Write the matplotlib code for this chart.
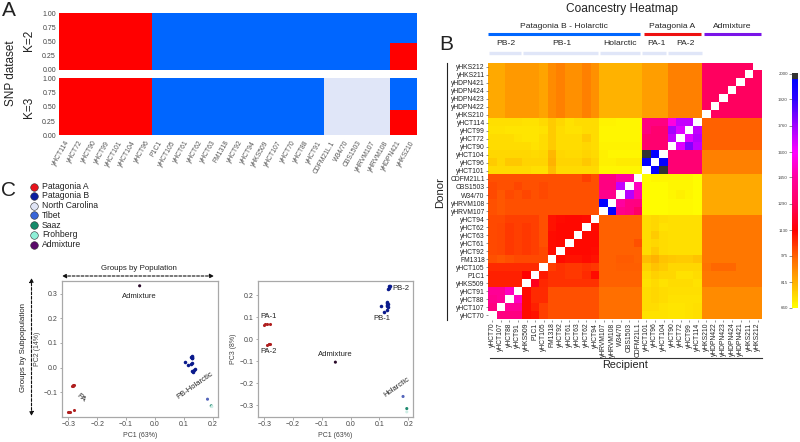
# Structure, coancestry heatmap and PCA panels
import numpy as np
import matplotlib
matplotlib.use("Agg")
import matplotlib.pyplot as plt
from matplotlib.colors import LinearSegmentedColormap, Normalize
from matplotlib.cm import ScalarMappable

plt.rcParams["font.family"] = ["Liberation Sans", "DejaVu Sans"]

W, H = 800, 442
TXT = "#222222"
GREY = "#444444"
RED = "#ff0000"
BLUE = "#0066ff"
PALE = "#e0e6f8"

# ---------------------------------------------------------------
# Data
# ---------------------------------------------------------------
strains = ["yHCT114", "yHCT72", "yHCT90", "yHCT99", "yHCT101", "yHCT104", "yHCT96",
           "P1C1", "yHCT105", "yHCT61", "yHCT62", "yHCT63", "FM1318", "yHCT92", "yHCT94",
           "yHKS509", "yHCT107", "yHCT70", "yHCT88", "yHCT91", "CDFM21L.1", "W34/70",
           "CBS1503", "yHRVM107", "yHRVM108", "yHDPN421", "yHKS210"]

k2_red = [1.0] * 7 + [0.0] * 18 + [0.48, 0.48]
k2_blue = [0.0] * 7 + [1.0] * 18 + [0.52, 0.52]

k3_red = [1.0] * 7 + [0.0] * 18 + [0.44, 0.44]
k3_blue = [0.0] * 7 + [1.0] * 13 + [0.0] * 5 + [0.56, 0.56]
k3_pale = [0.0] * 20 + [1.0] * 5 + [0.0, 0.0]

donors = ["yHKS212", "yHKS211", "yHDPN421", "yHDPN424", "yHDPN423", "yHDPN422", "yHKS210",
          "yHCT114", "yHCT99", "yHCT72", "yHCT90", "yHCT104", "yHCT96", "yHCT101",
          "CDFM21L1", "CBS1503", "W34/70", "yHRVM108", "yHRVM107",
          "yHCT94", "yHCT62", "yHCT63", "yHCT61", "yHCT92", "FM1318", "yHCT105", "P1C1", "yHKS509",
          "yHCT91", "yHCT88", "yHCT107", "yHCT70"]
recipients = donors[::-1]

# 0 is the empty diagonal cell
coancestry = [
    [830,830,860,860,860,860,840,890,915,880,880,915,880,815,815,815,815,815,850,850,850,915,915,915,915,1290,1290,1290,1290,1290,1290,0],
    [830,830,860,860,860,860,840,890,915,880,880,915,880,815,815,815,815,815,850,850,850,915,915,915,915,1290,1290,1290,1290,1290,0,1290],
    [830,830,860,860,860,860,840,890,915,880,880,915,880,815,815,815,815,815,850,850,850,915,915,915,915,1290,1290,1290,1290,0,1290,1290],
    [830,830,860,860,860,860,840,890,915,880,880,915,880,815,815,815,815,815,850,850,850,915,915,915,915,1290,1290,1290,0,1290,1290,1290],
    [830,830,860,860,860,860,840,890,915,880,880,915,880,815,815,815,815,815,850,850,850,915,915,915,915,1290,1290,0,1290,1290,1290,1290],
    [830,830,860,860,860,860,840,890,915,880,880,915,880,815,815,815,815,815,850,850,850,915,915,915,915,1290,0,1290,1290,1290,1290,1290],
    [830,830,860,860,860,860,840,890,915,880,880,915,880,815,815,815,815,815,850,850,850,915,915,915,915,0,1290,1290,1290,1290,1290,1290],
    [725,725,725,725,720,720,735,760,740,720,730,730,730,685,685,680,680,680,1370,1370,1370,1550,1700,1700,0,975,975,975,975,975,975,975],
    [720,720,710,710,710,710,720,760,730,720,720,730,730,680,680,680,680,680,1370,1330,1330,1750,1650,0,1700,975,975,975,975,975,975,975],
    [730,730,730,720,710,710,730,760,730,730,730,760,730,680,680,680,680,680,1330,1330,1330,1700,0,1650,1720,975,975,975,975,975,975,975],
    [730,730,730,730,730,720,730,760,730,730,730,740,730,685,685,685,685,685,1330,1330,1330,0,1650,1800,1700,975,975,975,975,975,975,975],
    [740,740,740,740,740,735,740,800,740,735,735,745,735,690,680,680,680,680,2070,2030,0,1340,1340,1340,1340,915,915,915,915,915,915,915],
    [760,740,770,770,745,745,745,810,745,745,745,770,745,690,690,700,700,700,2030,0,2030,1340,1340,1340,1340,915,915,915,915,915,915,915],
    [735,735,735,735,735,725,725,790,735,735,735,735,735,680,680,680,680,680,0,2030,2070,1340,1340,1340,1340,915,915,915,915,915,915,915],
    [1000,1000,1000,1000,1000,1000,1000,1000,1000,1000,1000,1030,1000,1370,1370,1450,1450,0,670,680,680,680,680,680,670,830,830,830,830,830,830,830],
    [1010,1000,1000,1020,1000,1000,1010,1000,1000,1000,1000,1000,1000,1370,1370,1700,0,1500,670,670,670,680,680,680,670,830,830,830,830,830,830,830],
    [1010,990,1010,1000,1020,1000,1010,1000,1000,1000,1000,1000,1000,1400,1400,0,1720,1480,670,670,670,680,690,680,670,830,830,830,830,830,830,830],
    [1000,990,1000,1000,1000,1000,1000,1000,1000,1000,1000,1000,1000,2030,0,1450,1380,1370,670,670,670,675,675,675,670,830,830,830,830,830,830,830],
    [1000,990,1000,1000,1000,1000,1000,1000,1000,1000,1000,1000,1000,0,2030,1400,1380,1300,670,670,670,675,675,675,670,830,830,830,830,830,830,830],
    [1010,1010,1030,1030,1030,1030,1000,1100,1110,1120,1120,1110,0,975,975,975,975,975,730,740,730,725,725,725,725,930,930,930,930,930,930,930],
    [1010,1020,1040,1030,1040,1030,1000,1100,1120,1120,1120,0,1110,975,975,975,975,975,730,740,720,725,725,725,725,930,930,930,930,930,930,930],
    [1010,1020,1040,1030,1040,1030,1000,1110,1120,1120,0,1120,1120,975,975,975,975,975,730,760,730,725,725,725,725,930,930,930,930,930,930,930],
    [1010,1020,1040,1030,1040,1030,1000,1110,1120,0,1120,1120,1120,975,975,975,975,1000,730,740,730,725,725,725,725,930,930,930,930,930,930,930],
    [1010,1020,1040,1030,1040,1030,1010,1110,0,1120,1120,1120,1110,975,975,975,975,975,730,760,730,725,725,725,725,930,930,930,930,930,930,930],
    [1000,990,1000,1010,1010,1010,1010,0,1110,1100,1100,1110,1100,975,975,985,985,975,790,810,780,770,760,760,780,930,930,930,930,930,930,930],
    [1060,1060,1060,1060,1060,1060,0,1030,1050,1040,1040,1050,1040,975,975,980,980,980,750,780,760,740,740,740,740,940,965,965,965,930,930,930],
    [1080,1080,1080,1080,1135,0,1090,1050,1050,1040,1040,1060,1110,975,975,975,975,975,730,750,740,740,720,720,730,930,930,930,930,930,930,930],
    [1080,1080,1080,1080,0,1180,1070,1050,1050,1050,1050,1050,1050,975,975,975,975,975,720,735,720,730,730,730,720,930,930,930,930,930,930,930],
    [1420,1420,1500,0,1110,1060,1060,1000,1000,1000,1000,1000,1000,945,945,945,945,945,730,740,730,725,725,725,725,890,890,890,890,890,890,890],
    [1400,1420,0,1500,1110,1060,1060,1000,1000,1000,1000,1000,1000,945,945,945,945,945,730,740,730,720,720,720,720,890,890,890,890,890,890,890],
    [1370,0,1420,1420,1110,1080,1030,1000,1000,1000,1000,1000,1000,945,945,945,945,945,730,730,720,710,710,720,725,890,890,890,890,890,890,890],
    [0,1370,1370,1370,1110,1100,1030,1000,1000,1000,1000,1000,1000,945,945,945,945,945,720,720,720,710,710,720,725,890,890,890,890,890,890,890],
]

cbar_levels = [660, 815, 975, 1130, 1290, 1450, 1600, 1760, 1920, 2075]
cbar_labels = ["660", "815", "975", "1130", "1290", "1450", "1600", "1760", "1920", "2000"]

# PC scores per population (PC1, PC2) left panel, (PC1, PC3) right panel
pa_pc1 = [-0.285, -0.283, -0.280, -0.287, -0.302, -0.297, -0.293, -0.282]
pa_pc2 = [-0.073, -0.072, -0.072, -0.074, -0.178, -0.179, -0.180, -0.170]
pb_pc1 = [0.125, 0.130, 0.128, 0.127, 0.105, 0.115, 0.125, 0.130, 0.135, 0.132, 0.137, 0.130, 0.128]
pb_pc2 = [0.043, 0.047, 0.040, 0.038, 0.021, 0.012, 0.016, 0.020, -0.010, -0.018, -0.005, -0.014, 0.045]
other_pc1 = [0.182, 0.195, 0.197, -0.053]
other_pc2 = [-0.128, -0.155, -0.158, 0.332]

pa_x3 = [-0.302, -0.297, -0.292, -0.281, -0.289, -0.285, -0.282, -0.281]
pa_pc3 = [0.063, 0.068, 0.070, 0.069, -0.024, -0.023, -0.022, -0.020]
pb_x3 = [0.132, 0.133, 0.135, 0.131, 0.105, 0.115, 0.125, 0.127, 0.128, 0.125, 0.130, 0.128, 0.130]
pb_pc3 = [0.233, 0.240, 0.242, 0.229, 0.150, 0.125, 0.135, 0.150, 0.155, 0.170, 0.160, 0.165, 0.145]
other_x3 = [0.182, 0.195, 0.195, -0.053]
other_pc3 = [-0.260, -0.315, -0.330, -0.104]
other_cols = ["#5566bb", "#1f8a70", "#cfeee6", "#2a0a2a"]

legend_names = ["Patagonia A", "Patagonia B", "North Carolina", "Tibet", "Saaz", "Frohberg", "Admixture"]
legend_cols = ["#e8141c", "#0a1fa0", "#dfe4f5", "#3a66d8", "#148a6a", "#8ff0d8", "#5a0a6a"]


def px_axes(x0, y0, x1, y1):
    # axes placed by pixel box, y counted from the top
    return fig.add_axes([x0 / W, 1 - y1 / H, (x1 - x0) / W, (y1 - y0) / H])


fig = plt.figure(figsize=(8, 4.42), dpi=100)

# overlay in pixel coordinates for headers, rules and arrows
ov = fig.add_axes([0, 0, 1, 1], zorder=5)
ov.set_xlim(0, W)
ov.set_ylim(H, 0)
ov.axis("off")


def label(x, y, s, size=5.5, color=TXT, rot=0, ha="center"):
    ov.text(x, y, s, fontsize=size, color=color, rotation=rot, ha=ha, va="center")


# ---------------------------------------------------------------
# Panel A: admixture bars
# ---------------------------------------------------------------
pos = np.arange(len(strains))

ax_k2 = px_axes(58.7, 13, 417, 70)
ax_k2.bar(pos, k2_red, width=1.0, color=RED)
ax_k2.bar(pos, k2_blue, width=1.0, bottom=k2_red, color=BLUE)

ax_k3 = px_axes(58.7, 78.3, 417, 135.3)
ax_k3.bar(pos, k3_red, width=1.0, color=RED)
ax_k3.bar(pos, k3_blue, width=1.0, bottom=k3_red, color=BLUE)
ax_k3.bar(pos, k3_pale, width=1.0, bottom=np.add(k3_red, k3_blue), color=PALE)

for ax in (ax_k2, ax_k3):
    ax.set_xlim(-0.5, len(strains) - 0.5)
    ax.set_ylim(0, 1)
    ax.set_yticks([0, 0.25, 0.5, 0.75, 1.0], ["0.00", "0.25", "0.50", "0.75", "1.00"])
    ax.tick_params(axis="y", length=0, labelsize=5, labelcolor=GREY, pad=2)
    for s in ax.spines.values():
        s.set_visible(False)
ax_k2.set_xticks([])
ax_k3.set_xticks(pos, strains, rotation=60, ha="right", rotation_mode="anchor")
ax_k3.tick_params(axis="x", length=0, labelsize=4.9, labelcolor="#555555", pad=3)

label(9, 11, "A", size=15, ha="center")
label(11, 73, "SNP dataset", size=8.5, rot=90)
label(29, 40, "K=2", size=8.5, rot=90)
label(29, 107, "K=3", size=8.5, rot=90)

# ---------------------------------------------------------------
# Panel B: coancestry heatmap
# ---------------------------------------------------------------
cmap = LinearSegmentedColormap.from_list("coancestry", [
    (0.0, "#ffff00"), (0.109, "#ffb000"), (0.222, "#ff6000"), (0.331, "#ff0000"),
    (0.444, "#ff0060"), (0.556, "#ff00a0"), (0.662, "#ff00ff"), (0.775, "#a000ff"),
    (0.887, "#3000ff"), (0.972, "#0000ff"), (0.979, "#333333"), (1.0, "#333333")])
cmap.set_bad("white")
norm = Normalize(660, 2080)

ax_hm = px_axes(488, 62.5, 762, 319.5)
ax_hm.imshow(np.ma.masked_equal(np.array(coancestry, dtype=float), 0), cmap=cmap, norm=norm,
             aspect="auto", interpolation="nearest")
ax_hm.set_xticks(range(len(recipients)), recipients, rotation=90)
ax_hm.set_yticks(range(len(donors)), donors)
ax_hm.tick_params(length=1.5, width=0.4, labelsize=4.9, labelcolor=TXT, color=GREY, pad=0.8)
for s in ax_hm.spines.values():
    s.set_visible(False)

ax_cb = px_axes(792, 73, 798, 308)
cb = fig.colorbar(ScalarMappable(norm=norm, cmap=cmap), cax=ax_cb)
cb.outline.set_visible(False)
cb.set_ticks(cbar_levels, labels=cbar_labels)
ax_cb.yaxis.set_ticks_position("left")
ax_cb.tick_params(length=2, width=0.4, labelsize=3.2, labelcolor=GREY, color=GREY, pad=1)

label(622.5, 9, "Coancestry Heatmap", size=8.6)
label(563.5, 26, "Patagonia B - Holarctic", size=6.1)
label(672.5, 26, "Patagonia A", size=6.1)
label(732, 26, "Admixture", size=6.1)
ov.plot([488, 640], [34, 34], color=BLUE, lw=2.2, solid_capstyle="butt")
ov.plot([643.5, 701], [34, 34], color="#ee1111", lw=2.2, solid_capstyle="butt")
ov.plot([703.5, 761], [34, 34], color="#7a14e8", lw=2.2, solid_capstyle="butt")
for cx, name in [(506, "PB-2"), (562, "PB-1"), (619.5, "Holarctic"), (656.5, "PA-1"), (685.5, "PA-2")]:
    label(cx, 43.5, name, size=6.1)
for x0, x1 in [(488.7, 520.7), (523, 598), (600, 640), (642, 666), (668, 701.5)]:
    ov.plot([x0, x1], [52.5, 52.5], color=PALE, lw=2.4, solid_capstyle="butt")
label(446.5, 45, "B", size=15)
label(440, 193, "Donor", size=8.2, rot=90)
label(625, 365, "Recipient", size=7.8)
ov.plot([446.7, 446.7], [63, 320], color="#222222", lw=0.8)
ov.plot([490, 762], [358, 358], color="#333333", lw=0.8)

# ---------------------------------------------------------------
# Panel C: PCA
# ---------------------------------------------------------------
ax_l = px_axes(62.3, 281, 217.5, 416.7)
ax_l.scatter(pa_pc1, pa_pc2, s=5, color="#b02020", linewidths=0)
ax_l.scatter(pb_pc1, pb_pc2, s=6.5, color="#0a1a8c", linewidths=0)
ax_l.scatter(other_pc1, other_pc2, s=5, c=other_cols, linewidths=0)
ax_l.set_xlim(-0.3208, 0.2166)
ax_l.set_ylim(-0.199, 0.3515)
ax_l.set_yticks([-0.1, 0.0, 0.1, 0.2, 0.3])
ax_l.set_xlabel("PC1 (63%)")
ax_l.set_ylabel("PC2 (14%)")
ax_l.text(-0.054, 0.288, "Admixture", fontsize=5.5, color=TXT, ha="center", va="center")
ax_l.text(-0.256, -0.122, "PA", fontsize=5.5, color=TXT, ha="center", va="center", rotation=-40)
ax_l.text(0.138, -0.073, "PB-Holarctic", fontsize=5.5, color=TXT, ha="center", va="center", rotation=35)

ax_r = px_axes(258.3, 281, 413, 416.7)
ax_r.scatter(pa_x3, pa_pc3, s=5, color="#b02020", linewidths=0)
ax_r.scatter(pb_x3, pb_pc3, s=6.5, color="#0a1a8c", linewidths=0)
ax_r.scatter(other_x3, other_pc3, s=5, c=other_cols, linewidths=0)
ax_r.set_xlim(-0.3208, 0.2166)
ax_r.set_ylim(-0.352, 0.265)
ax_r.set_yticks([-0.3, -0.2, -0.1, 0.0, 0.1, 0.2])
ax_r.set_xlabel("PC1 (63%)")
ax_r.set_ylabel("PC3 (8%)")
for x, y, s, r in [(-0.285, 0.105, "PA-1", 0), (-0.286, -0.055, "PA-2", 0), (-0.055, -0.067, "Admixture", 0),
                   (0.107, 0.094, "PB-1", 0), (0.175, 0.232, "PB-2", 0), (0.160, -0.218, "Holarctic", 35)]:
    ax_r.text(x, y, s, fontsize=5.5, color=TXT, ha="center", va="center", rotation=r)

for ax in (ax_l, ax_r):
    ax.set_xticks([-0.3, -0.2, -0.1, 0.0, 0.1, 0.2])
    ax.tick_params(length=1.8, width=0.5, labelsize=5, labelcolor=GREY, color="#888888", pad=1.5)
    ax.xaxis.label.set(fontsize=5, color=GREY)
    ax.yaxis.label.set(fontsize=5, color=GREY)
    ax.xaxis.labelpad = 3
    ax.yaxis.labelpad = 2
    for s in ax.spines.values():
        s.set_color("#a8a8a8")
        s.set_linewidth(0.9)

label(9, 190, "C", size=15)
for yy, name, col in zip([186.7, 196, 205.7, 215, 225, 234.5, 244.7], legend_names, legend_cols):
    ov.scatter([34], [yy], s=30, color=col, edgecolors="#333333", linewidths=0.4)
    label(42, yy, name, size=6.2, ha="left")

ov.annotate("", xy=(62, 276), xytext=(214, 276),
            arrowprops=dict(arrowstyle="<|-|>", ls=(0, (2.5, 1.5)), color="#111111", lw=0.8,
                            shrinkA=0, shrinkB=0, mutation_scale=6))
ov.annotate("", xy=(31.5, 278), xytext=(31.5, 416),
            arrowprops=dict(arrowstyle="<|-|>", ls=(0, (2.5, 1.5)), color="#111111", lw=0.8,
                            shrinkA=0, shrinkB=0, mutation_scale=6))
label(138.5, 268, "Groups by Population", size=5.7)
label(24, 348, "Groups by Subpopulation", size=5.7, rot=90)

fig.savefig("out.png", dpi=100)
